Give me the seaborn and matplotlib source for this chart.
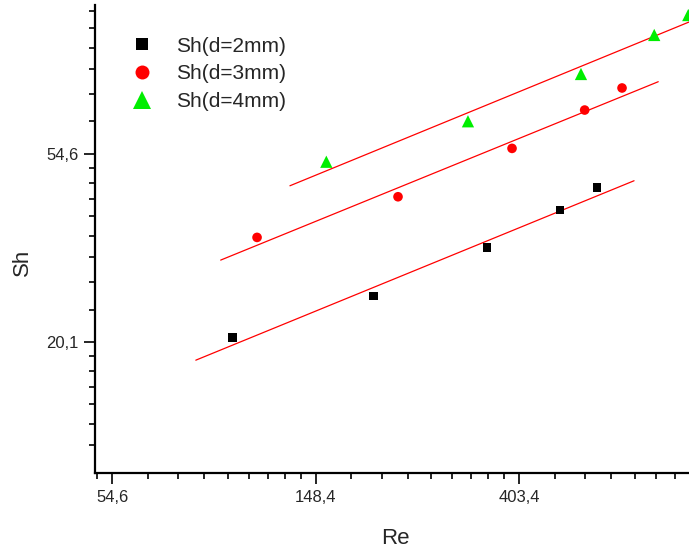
import numpy as np
import pandas as pd
import matplotlib
matplotlib.use("Agg")
import matplotlib.pyplot as plt
import matplotlib.ticker as mticker
import seaborn as sns

# measured points (Re, Sh) for each pipe diameter
re_2mm = [98.5, 196.9, 344.2, 492.7, 591.0]
sh_2mm = [20.63, 25.70, 33.22, 40.61, 45.71]
re_3mm = [111.2, 222.3, 389.3, 556.3, 668.4]
sh_3mm = [35.11, 43.58, 56.36, 69.1, 77.7]
re_4mm = [156.3, 313.5, 546.3, 783.0, 925.5]
sh_4mm = [52.5, 65.1, 83.7, 103.0, 114.5]

# correlation lines (end points)
fit_re_2mm = [82.3, 709.1]
fit_sh_2mm = [18.28, 47.45]
fit_re_3mm = [93.0, 798.6]
fit_sh_3mm = [31.12, 80.33]
fit_re_4mm = [130.7, 1000.0]
fit_sh_4mm = [46.2, 114.0]

labels = ['Sh(d=2mm)', 'Sh(d=3mm)', 'Sh(d=4mm)']

df = pd.DataFrame({
    'Re': re_2mm + re_3mm + re_4mm,
    'Sh': sh_2mm + sh_3mm + sh_4mm,
    'label': [labels[0]] * 5 + [labels[1]] * 5 + [labels[2]] * 5,
})

sns.set_style('ticks')
plt.rcParams['font.family'] = ['Liberation Sans', 'DejaVu Sans']

fig = plt.figure(figsize=(6.89, 5.5), dpi=100)
ax = fig.add_axes([95 / 689, 77 / 550, 594 / 689, 468 / 550])

for fx, fy in [(fit_re_2mm, fit_sh_2mm), (fit_re_3mm, fit_sh_3mm), (fit_re_4mm, fit_sh_4mm)]:
    sns.lineplot(x=fx, y=fy, color='red', linewidth=0.9, ax=ax, sort=False)

sns.scatterplot(data=df, x='Re', y='Sh', hue='label', style='label', size='label',
                palette={labels[0]: 'black', labels[1]: '#ff0000', labels[2]: '#00ee00'},
                markers={labels[0]: 's', labels[1]: 'o', labels[2]: '^'},
                sizes={labels[0]: 40, labels[1]: 48, labels[2]: 78},
                linewidth=0, ax=ax, zorder=3)

ax.set_xscale('log', base=np.e)
ax.set_yscale('log', base=np.e)
ax.set_xlim(np.exp(3.915), np.exp(6.834))
ax.set_ylim(np.exp(2.306), np.exp(4.794))

fmt = mticker.FuncFormatter(lambda v, p: f"{v:.1f}".replace('.', ','))
ax.xaxis.set_major_locator(mticker.FixedLocator(np.exp([4, 5, 6])))
ax.yaxis.set_major_locator(mticker.FixedLocator(np.exp([3, 4])))
ax.xaxis.set_major_formatter(fmt)
ax.yaxis.set_major_formatter(fmt)

minor = np.concatenate([np.linspace(np.exp(n), np.exp(n + 1), 10)[1:-1] for n in range(2, 7)])
ax.xaxis.set_minor_locator(mticker.FixedLocator(minor))
ax.yaxis.set_minor_locator(mticker.FixedLocator(minor[minor > 11]))
ax.xaxis.set_minor_formatter(mticker.NullFormatter())
ax.yaxis.set_minor_formatter(mticker.NullFormatter())

ax.tick_params(which='major', length=8, width=1.2, labelsize=12, pad=4, color='black')
ax.tick_params(which='minor', length=4.5, width=1.2, color='black')

sns.despine(ax=ax)
for s in ['left', 'bottom']:
    ax.spines[s].set_linewidth(1.6)
    ax.spines[s].set_color('black')

ax.set_xlabel('Re', fontsize=16)
ax.set_ylabel('Sh', fontsize=16)
ax.xaxis.set_label_coords(0.505, -0.117)
ax.yaxis.set_label_coords(-0.104, 0.451)

sns.move_legend(ax, 'upper left', bbox_to_anchor=(129.5 / 689, 1 - 36.5 / 550),
                bbox_transform=fig.transFigure, frameon=False, title=None,
                markerscale=1.45, fontsize=15, handlelength=1.2, handletextpad=1.03,
                labelspacing=0.43, borderpad=0, borderaxespad=0)

fig.savefig('out.png', dpi=100)
